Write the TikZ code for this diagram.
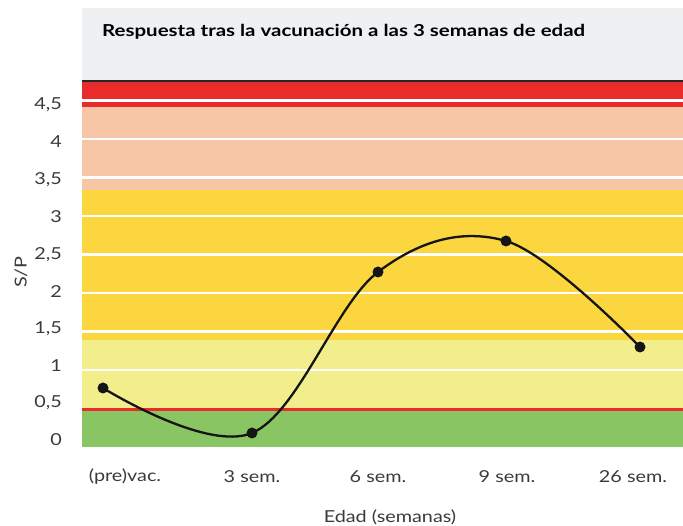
\documentclass[tikz,border=0pt]{standalone}
\usepackage{fontspec}
\setmainfont{Lato}
\definecolor{titlebg}{HTML}{EFF0F2}
\definecolor{bandred}{HTML}{E92C2B}
\definecolor{bandpeach}{HTML}{F7C6A6}
\definecolor{bandyellow}{HTML}{FCD63F}
\definecolor{bandlight}{HTML}{F2EE8B}
\definecolor{bandgreen}{HTML}{89C663}
\definecolor{labelgray}{HTML}{3A3A3A}
\definecolor{curveblack}{HTML}{151515}
\newcommand{\widetxt}[1]{\scalebox{1.2}[1]{#1}}
\newcommand{\widetitle}[1]{\scalebox{1.24}[1]{#1}}
\tikzset{
  grid line/.style={white, line width=2.6pt},
  ytick/.style={anchor=east, text=labelgray, font=\fontsize{16.5}{18}\selectfont, inner sep=0pt},
  xtick/.style={anchor=center, text=labelgray, font=\fontsize{16.5}{18}\selectfont, inner sep=0pt},
  datadot/.style={circle, fill=curveblack, minimum size=11pt, inner sep=0pt},
}
\begin{document}
\begin{tikzpicture}[x=1pt,y=-1pt]
\useasboundingbox (0,0) rectangle (683,526);
% title box
\fill[titlebg] (82,8) rectangle (683,80);
\node[anchor=base west, inner sep=0pt, font=\fontsize{16.5}{18}\selectfont\bfseries, text=black] (title) at (102,37) {\widetitle{Respuesta tras la vacunación a las 3 semanas de edad}};
% bands
\fill[bandred] (82,81) rectangle (683,107.5);
\fill[bandpeach] (82,107.5) rectangle (683,190.5);
\fill[bandyellow] (82,190.5) rectangle (683,340.5);
\fill[bandlight] (82,340.5) rectangle (683,409);
\fill[bandgreen] (82,409) rectangle (683,447);
% grid lines
\foreach \yy in {370,331.5,293,254.5,216,177.5,139,100.5}
  \draw[grid line] (82,\yy) -- (683,\yy);
\draw[bandred, line width=3.4pt] (82,409.3) -- (683,409.3);
\draw[black!85, line width=1.6pt] (82,81) -- (683,81);
% y tick labels
\node[ytick] (y0) at (62,440) {\widetxt{0}};
\node[ytick] (y05) at (62,403) {\widetxt{0,5}};
\node[ytick] (y1) at (62,366) {\widetxt{1}};
\node[ytick] (y15) at (62,329) {\widetxt{1,5}};
\node[ytick] (y2) at (62,292) {\widetxt{2}};
\node[ytick] (y25) at (62,254.5) {\widetxt{2,5}};
\node[ytick] (y3) at (62,217) {\widetxt{3}};
\node[ytick] (y35) at (62,180) {\widetxt{3,5}};
\node[ytick] (y4) at (62,142) {\widetxt{4}};
\node[ytick] (y45) at (62,105) {\widetxt{4,5}};
\node[rotate=90, text=labelgray, font=\fontsize{16.5}{18}\selectfont, inner sep=0pt] (ylab) at (21,272) {\widetxt{S/P}};
% x tick labels
\node[xtick] (x1) at (125,477) {\widetxt{(pre)vac.}};
\node[xtick] (x2) at (252,477) {\widetxt{3 sem.}};
\node[xtick] (x3) at (378,477) {\widetxt{6 sem.}};
\node[xtick] (x4) at (507,477) {\widetxt{9 sem.}};
\node[xtick] (x5) at (633,477) {\widetxt{26 sem.}};
\node[xtick] (xlab) at (390,517) {\widetxt{Edad (semanas)}};
% data
\coordinate (c1) at (103,388);
\coordinate (c2) at (252,433);
\coordinate (c3) at (378,272);
\coordinate (c4) at (506,241);
\coordinate (c5) at (640,347);
\draw[curveblack, line width=2.3pt] plot[smooth, tension=0.6] coordinates {(c1) (c2) (c3) (c4) (c5)};
\node[datadot] (d1) at (c1) {};
\node[datadot] (d2) at (c2) {};
\node[datadot] (d3) at (c3) {};
\node[datadot] (d4) at (c4) {};
\node[datadot] (d5) at (c5) {};
\end{tikzpicture}
\end{document}
